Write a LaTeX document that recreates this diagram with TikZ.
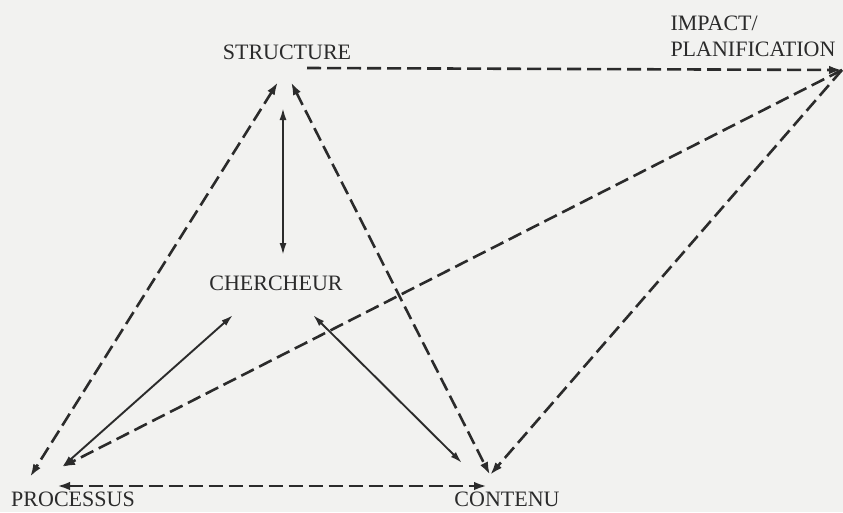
\documentclass[tikz,border=0pt]{standalone}
\usepackage{fontspec}
\setmainfont{Liberation Serif}
\usetikzlibrary{arrows.meta}
\definecolor{ink}{HTML}{2B2B2B}
\definecolor{paper}{HTML}{F2F2F0}
\begin{document}
\begin{tikzpicture}[x=1pt,y=-1pt,
  lbl/.style={text=ink,font=\fontsize{22}{26}\selectfont,inner sep=0pt},
  dtip/.style={-{Latex[length=13pt,width=8.5pt]}},
  dboth/.style={{Latex[length=13pt,width=8.5pt]}-{Latex[length=13pt,width=8.5pt]}},
  sboth/.style={{Latex[length=12pt,width=7pt]}-{Latex[length=12pt,width=7pt]}},
  dline/.style={draw=ink,line width=2.6pt,dash pattern=on 14pt off 6pt},
  sline/.style={draw=ink,line width=1.9pt}]
\fill[paper] (0,0) rectangle (843,512);
\useasboundingbox (0,0) rectangle (843,512);
% labels
\node[lbl] (structure) at (287,52) {STRUCTURE};
\node[lbl,align=left] (impact) at (753,36) {IMPACT/\\PLANIFICATION};
\node[lbl] (chercheur) at (276,283) {CHERCHEUR};
\node[lbl] (processus) at (73,499) {PROCESSUS};
\node[lbl] (contenu) at (507,499) {CONTENU};
% anchor points
\coordinate (sL) at (278,82);
\coordinate (sR) at (291,82);
\coordinate (sV) at (283,108);
\coordinate (sH) at (307,68);
\coordinate (ip) at (842,70);
\coordinate (pA) at (30,477);
\coordinate (pB) at (62,467);
\coordinate (pH) at (57,486);
\coordinate (cA) at (490,475);
\coordinate (cB) at (462,463);
\coordinate (cH) at (487,486);
\coordinate (chT) at (283,255);
\coordinate (chL) at (233,315);
\coordinate (chR) at (313,315);
% connectors
\draw[dline,dtip] (sH) -- (ip);
\draw[dline,dboth] (sL) -- (pA);
\draw[dline,dboth] (sR) -- (cA);
\draw[dline,dtip] (ip) -- (pB);
\draw[dline,dtip] (ip) -- (cA);
\draw[dline,dboth] (pH) -- (cH);
\draw[sline,sboth] (sV) -- (chT);
\draw[sline,sboth] (chL) -- (pB);
\draw[sline,sboth] (chR) -- (cB);
\end{tikzpicture}
\end{document}
